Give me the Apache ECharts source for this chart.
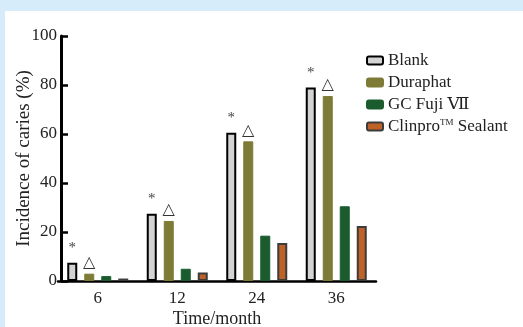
<!DOCTYPE html>
<html>
<head>
<meta charset="utf-8">
<script src="https://cdn.jsdelivr.net/npm/echarts@6/dist/echarts.min.js"></script>
<style>
html,body{margin:0;padding:0;background:#d7ecfa;}
#chart{width:523px;height:327px;}
</style>
</head>
<body>
<div id="chart"></div>
<script>
// 时间点（月）
var months = ['6', '12', '24', '36'];
// 各组患龋率 (%)
var blank = [7.5, 27.5, 60.5, 79];
var duraphat = [3, 24.5, 57, 75.5];
var fuji = [2, 5, 18.5, 30.5];
var clinpro = [1, 3.5, 15.5, 22.5];
// 显著性标记
var blankMark = '*';
var duraMark = '△';

var font = '"Liberation Serif", "DejaVu Serif", serif';

var chart = echarts.init(document.getElementById('chart'));
var option = {
	backgroundColor: '#d7ecfa',
	animation: false,
	textStyle: { fontFamily: font },
	graphic: [{
		type: 'rect',
		z: -10,
		shape: { x: 5, y: 11, width: 518, height: 316 },
		style: { fill: '#ffffff' }
	}],
	legend: {
		orient: 'vertical',
		left: 361,
		top: 47,
		itemWidth: 16,
		itemHeight: 8,
		itemGap: 5,
		textStyle: {
			fontFamily: font, fontSize: 17, color: '#222',
			rich: {
				t: { fontFamily: font, fontSize: 17, color: '#222' },
				sup: { fontFamily: font, fontSize: 9, color: '#222', verticalAlign: 'top', padding: [0, 0, 8, 0] }
			}
		},
		formatter: function (name) {
			if (name.indexOf('™') > 0) {
				var p = name.split('™');
				return '{t|' + p[0] + '}{sup|TM}{t|' + p[1] + '}';
			}
			return name;
		},
		data: ['Blank', 'Duraphat', 'GC Fuji Ⅶ', 'Clinpro™ Sealant']
	},
	grid: {
		left: 58,
		top: 36,
		width: 318,
		height: 245,
		containLabel: false,
		outerBoundsMode: 'none'
	},
	xAxis: {
		type: 'category',
		data: months,
		name: 'Time/month',
		nameLocation: 'middle',
		nameGap: 29,
		nameMoveOverlap: false,
		nameTextStyle: { fontFamily: font, fontSize: 18, color: '#222' },
		axisLine: { lineStyle: { color: '#000', width: 2.5 } },
		axisTick: { alignWithLabel: true, inside: true, length: 6, lineStyle: { color: '#000', width: 2 } },
		axisLabel: { fontFamily: font, fontSize: 17, color: '#222', margin: 9 }
	},
	yAxis: {
		type: 'value',
		min: 0,
		max: 100,
		interval: 20,
		offset: -3,
		name: 'Incidence of caries (%)',
		nameLocation: 'middle',
		nameGap: 27,
		nameMoveOverlap: false,
		nameTextStyle: { fontFamily: font, fontSize: 19, color: '#222' },
		axisLine: { show: true, lineStyle: { color: '#000', width: 3 } },
		axisTick: { show: true, inside: true, length: 7, lineStyle: { color: '#000', width: 2.5 } },
		axisLabel: { fontFamily: font, fontSize: 17, color: '#222', margin: 4 },
		splitLine: { show: false }
	},
	series: [{
		name: 'Blank',
		type: 'bar',
		data: blank,
		barWidth: 10,
		barGap: '70%',
		itemStyle: { color: '#d3d3d3', borderColor: '#000', borderWidth: 2 },
		label: { show: true, position: 'top', distance: 7, formatter: blankMark, fontFamily: font, fontSize: 15, color: '#444' }
	}, {
		name: 'Duraphat',
		type: 'bar',
		data: duraphat,
		barWidth: 10,
		barGap: '70%',
		itemStyle: { color: '#7d7b36', borderColor: '#7d7b36', borderWidth: 1 },
		label: { show: true, position: 'top', distance: 3, formatter: duraMark, fontFamily: '"DejaVu Sans", sans-serif', fontSize: 16, color: '#333' }
	}, {
		name: 'GC Fuji Ⅶ',
		type: 'bar',
		data: fuji,
		barWidth: 10,
		barGap: '70%',
		itemStyle: { color: '#1b5c2f', borderColor: '#1b5c2f', borderWidth: 1 }
	}, {
		name: 'Clinpro™ Sealant',
		type: 'bar',
		data: clinpro,
		barWidth: 10,
		barGap: '70%',
		itemStyle: { color: '#bf6228', borderColor: '#3c3c3c', borderWidth: 2 }
	}]
};
chart.setOption(option);
</script>
</body>
</html>
